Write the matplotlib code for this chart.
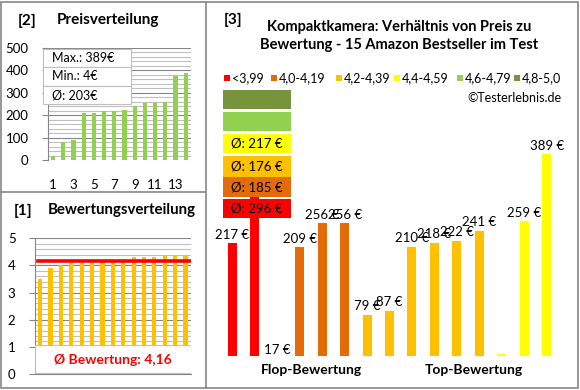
import numpy as np
import matplotlib.pyplot as plt
from matplotlib.patches import Rectangle

plt.rcParams['font.family'] = ['Lato', 'DejaVu Sans']

# data: 15 products, sorted by rating group
prices = [217, 375, 17, 209, 256, 256, 79, 87, 210, 218, 222, 241, 4, 259, 389]
group_idx = [0, 0, 1, 1, 1, 1, 2, 2, 2, 2, 2, 2, 3, 3, 3]
group_names = ['<3,99', '4,0-4,19', '4,2-4,39', '4,4-4,59', '4,6-4,79', '4,8-5,0']
group_colors = ['#FF0000', '#E36C09', '#FFC000', '#FFFF00', '#92D050', '#77933C']
ratings = [3.5, 3.9, 4.0, 4.1, 4.1, 4.1, 4.2, 4.2, 4.2, 4.3, 4.3, 4.3, 4.4, 4.4, 4.4]
hidden_labels = [1, 12]  # labels covered in the original

W, H = 580, 390
fig = plt.figure(figsize=(W / 100, H / 100), dpi=100)


def px_axes(x0, y0, x1, y1):
    # axes from pixel box (top-left origin)
    return fig.add_axes([x0 / W, 1 - y1 / H, (x1 - x0) / W, (y1 - y0) / H])


def rnd(v):
    return int(v + 0.5)


grey = '#868686'
light = '#BFBFBF'

# ---- [2] Preisverteilung
sorted_prices = sorted(p for p in prices if p > 4)
ax2 = px_axes(48, 47.7, 190.8, 160)
pos = np.arange(1, len(sorted_prices) + 1)
ax2.bar(pos, sorted_prices, width=0.4, color='#92D050', zorder=3)
ax2.set_xlim(0.5, 14.5)
ax2.set_ylim(0, 500)
ax2.set_yticks(range(0, 501, 100))
ax2.set_yticks(range(0, 501, 20), minor=True)
ax2.set_xticks(range(1, 14, 2))
ax2.grid(axis='y', which='major', color=grey, lw=0.8, zorder=0)
ax2.grid(axis='y', which='minor', color=light, lw=0.8, zorder=0)
ax2.tick_params(axis='y', which='major', length=4, color=grey, labelsize=9.5, pad=10)
ax2.tick_params(axis='y', which='minor', length=0)
ax2.tick_params(axis='x', length=0, labelsize=9.5, pad=14)
for s in ['top', 'right', 'bottom']:
    ax2.spines[s].set_visible(False)
ax2.spines['left'].set_color(grey)

# ---- [1] Bewertungsverteilung
avg_rating = np.mean(ratings)
ax1 = px_axes(35, 238.3, 190.7, 374)
rpos = np.arange(1, len(ratings) + 1)
ax1.bar(rpos, ratings, width=0.4, color='#FFC000', zorder=3)
ax1.plot([0.8, 15.5], [avg_rating, avg_rating], color='#FF0000', lw=2.6, zorder=4)
ax1.set_xlim(0.5, 15.5)
ax1.set_ylim(0, 5)
ax1.set_yticks(range(0, 6))
ax1.set_yticks(np.arange(0, 5.01, 0.2), minor=True)
ax1.set_xticks([])
ax1.grid(axis='y', which='major', color=grey, lw=0.8, zorder=0)
ax1.grid(axis='y', which='minor', color=light, lw=0.8, zorder=0)
ax1.tick_params(axis='y', which='major', length=4, color=grey, labelsize=9.5, pad=10)
ax1.tick_params(axis='y', which='minor', length=0)
for s in ['top', 'right']:
    ax1.spines[s].set_visible(False)
ax1.spines['left'].set_color(grey)
ax1.spines['bottom'].set_color(grey)
ax1.add_patch(Rectangle((0.5, 0.02), 15, 1.05, facecolor='white', edgecolor=light,
                        lw=0.8, zorder=5))
ax1.text(8, 0.52, 'Ø Bewertung: ' + f'{avg_rating:.2f}'.replace('.', ','),
         color='#FF0000', fontsize=10, fontweight='bold', ha='center', va='center', zorder=6)

# ---- [3] main chart
ax3 = px_axes(216.6, 148.3, 562.4, 355.7)
xs = np.arange(len(prices))
ax3.bar(xs, prices, width=0.4, color=[group_colors[g] for g in group_idx], zorder=3)
for i, p in enumerate(prices):
    if i in hidden_labels:
        continue
    low = p < 50
    ax3.annotate(f'{p} €', (i, p), xytext=(0, -2 if low else 6), textcoords='offset points',
                 ha='center', va='center', fontsize=9.5, zorder=5,
                 bbox=dict(boxstyle='square,pad=0.1', fc='white' if low else 'none', ec='none'))
ax3.set_xlim(-0.7, 14.7)
ax3.set_ylim(0, 400)
ax3.axis('off')

# ---- overlay: borders, titles, legend, average boxes
ov = fig.add_axes([0, 0, 1, 1])
ov.set_xlim(0, W)
ov.set_ylim(H, 0)
ov.axis('off')

ov.add_patch(Rectangle((1, 2), 576.5, 385.5, fill=False, edgecolor=grey, lw=1.2))
ov.plot([205.5, 205.5], [2, 387.5], color=grey, lw=1.2)
ov.plot([1, 205.5], [192.3, 192.3], color=grey, lw=1.2)

ov.text(27, 21, '[2]', fontsize=11, fontweight='bold', ha='center', va='center')
ov.text(108, 20, 'Preisverteilung', fontsize=11, fontweight='bold', ha='center', va='center')
ov.text(23, 211, '[1]', fontsize=11, fontweight='bold', ha='center', va='center')
ov.text(122, 210, 'Bewertungsverteilung', fontsize=10.8, fontweight='bold', ha='center', va='center')
ov.text(233, 20, '[3]', fontsize=11, fontweight='bold', ha='center', va='center')
ov.text(399, 36, 'Kompaktkamera: Verhältnis von Preis zu\nBewertung - 15 Amazon Bestseller im Test',
        fontsize=10.5, fontweight='bold', ha='center', va='center', linespacing=1.4)

# price summary box
stats = [f'Max.: {max(prices)}€', f'Min.: {min(prices)}€', f'Ø: {rnd(np.mean(prices))}€']
for k, s in enumerate(stats):
    y0 = 48.5 + k * 18.5
    ov.add_patch(Rectangle((42.5, y0), 88, 18.5, facecolor='white', edgecolor=light, lw=0.8))
    ov.text(52, y0 + 9.5, s, fontsize=9, ha='left', va='center')

# legend row
leg_x = [227, 274, 339, 397, 460, 517]
for lx, name, c in zip(leg_x, group_names, group_colors):
    ov.add_patch(Rectangle((lx - 3, 75), 6, 6, facecolor=c, edgecolor='none'))
    ov.text(lx + 5, 78.5, name, fontsize=9, ha='left', va='center')
ov.text(562, 98.5, '©Testerlebnis.de', fontsize=9, ha='right', va='center')

# average boxes stacked (top: best group)
box_y = [(90, 109), (111.5, 131), (134, 153), (156, 177), (177, 197), (199, 218)]
for gi, (y0, y1) in zip(range(5, -1, -1), box_y):
    ov.add_patch(Rectangle((223, y0), 68, y1 - y0, facecolor=group_colors[gi], edgecolor='none'))
    vals = [p for p, g in zip(prices, group_idx) if g == gi]
    if vals:
        ov.text(257, (y0 + y1) / 2, f'Ø: {rnd(np.mean(vals))} €', fontsize=9.5,
                ha='center', va='center')

ov.text(311, 370, 'Flop-Bewertung', fontsize=10, fontweight='bold', ha='center', va='center')
ov.text(474, 370, 'Top-Bewertung', fontsize=10, fontweight='bold', ha='center', va='center')

fig.savefig('out.png', dpi=100)
